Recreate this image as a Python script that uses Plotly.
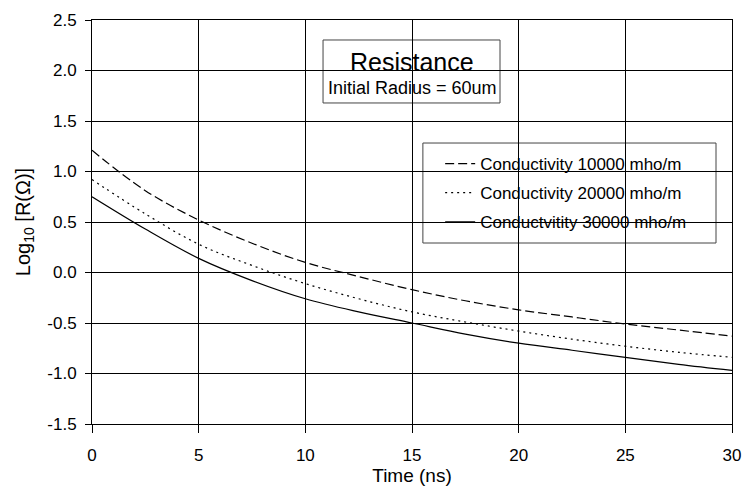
import plotly.graph_objects as go

time_ns = [0, 2.5, 5, 7.5, 10, 12.5, 15, 17.5, 20, 22.5, 25, 27.5, 30]
cond_10000 = [1.21, 0.81, 0.52, 0.29, 0.10, -0.04, -0.17, -0.28, -0.37, -0.44, -0.51, -0.57, -0.63]
cond_20000 = [0.92, 0.58, 0.28, 0.07, -0.11, -0.26, -0.39, -0.49, -0.58, -0.66, -0.73, -0.79, -0.84]
cond_30000 = [0.75, 0.43, 0.14, -0.08, -0.26, -0.39, -0.50, -0.61, -0.70, -0.77, -0.84, -0.91, -0.97]
names = ["Conductivity 10000 mho/m", "Conductivity 20000 mho/m", "Conductvitity 30000 mho/m"]
x_ticks = [0, 5, 10, 15, 20, 25, 30]
y_ticks = [-1.5, -1.0, -0.5, 0.0, 0.5, 1.0, 1.5, 2.0, 2.5]

font = "Liberation Sans, Arial, sans-serif"
fig = go.Figure()
styles = ["9px,4px", "2px,4px", "solid"]
for name, ys, dash in zip(names, [cond_10000, cond_20000, cond_30000], styles):
    fig.add_trace(go.Scatter(x=time_ns, y=ys, mode="lines", name=name, legendgroup=name,
                             line=dict(color="black", width=1.2, dash=dash, shape="spline")))

fig.update_layout(
    width=744, height=495,
    margin=dict(l=92, r=12, t=20, b=71, autoexpand=False),
    paper_bgcolor="white", plot_bgcolor="white",
    font=dict(family=font, size=17, color="black"),
    showlegend=True,
    legend=dict(x=0.544, y=0.688, xanchor="left", yanchor="top",
                borderwidth=0, bgcolor="rgba(0,0,0,0)",
                font=dict(size=17), tracegroupgap=4),
    xaxis=dict(range=[0, 30], tickvals=x_ticks, ticktext=[str(v) for v in x_ticks],
               showgrid=True, gridcolor="black", gridwidth=1, zeroline=False, automargin=False,
               showline=True, linecolor="black", mirror=True, ticks="outside", ticklen=8,
               tickcolor="black", ticklabelstandoff=8, ticklabeloverflow="allow",
               title=dict(text="Time (ns)", font=dict(size=19), standoff=4)),
    yaxis=dict(range=[-1.5, 2.5], tickvals=y_ticks, ticktext=[f"{v:.1f}" for v in y_ticks],
               showgrid=True, gridcolor="black", gridwidth=1, zeroline=False, automargin=False,
               showline=True, linecolor="black", mirror=True, ticks="outside", ticklen=6,
               tickcolor="black", ticklabelstandoff=5, ticklabeloverflow="allow",
               title=dict(text="Log<sub>10</sub> [R(Ω)]", font=dict(size=20), standoff=11)),
)

# legend frame and title frame
fig.add_shape(type="rect", xref="paper", yref="paper", x0=0.517, x1=0.975, y0=0.448, y1=0.6955,
              line=dict(color="#444", width=1), fillcolor="white", layer="between")
fig.add_shape(type="rect", xref="paper", yref="paper", x0=0.361, x1=0.6375, y0=0.7946, y1=0.9505,
              line=dict(color="#444", width=1), fillcolor="white", layer="between")
fig.add_annotation(x=(412 - 92) / 640, y=(424 - 62) / 404, xref="paper", yref="paper", xanchor="center", yanchor="middle",
                   text="Resistance", showarrow=False, font=dict(size=25))
fig.add_annotation(x=(412 - 92) / 640, y=(424 - 88) / 404, xref="paper", yref="paper", xanchor="center", yanchor="middle",
                   text="Initial Radius = 60um", showarrow=False, font=dict(size=18))

fig.write_html("out.html")
